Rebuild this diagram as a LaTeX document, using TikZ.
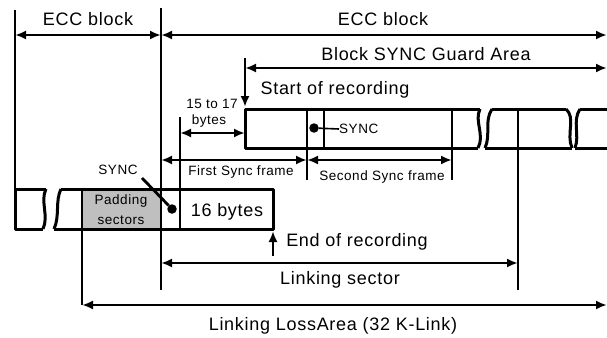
\documentclass[tikz,border=0pt]{standalone}
\usepackage{fontspec}
\setmainfont[LetterSpace=4]{Liberation Sans}
\usetikzlibrary{arrows.meta}
\tikzset{
  bar/.style={line width=3pt, line join=round},
  vline/.style={line width=2.2pt},
  dim/.style={line width=2.2pt, {Latex[length=11pt,width=9pt]}-{Latex[length=11pt,width=9pt]}},
  onetip/.style={line width=2.2pt, -{Latex[length=11pt,width=9pt]}},
  big/.style={font=\fontsize{18}{20}\selectfont, inner sep=0pt},
  small/.style={font=\fontsize{13.5}{15}\selectfont, inner sep=0pt},
  dot/.style={circle, fill=black, inner sep=0pt, minimum size=9.5pt},
}
\begin{document}
\begin{tikzpicture}[x=1pt,y=-1pt]
\useasboundingbox (0,0) rectangle (607,337);

% key coordinates
\coordinate (L0t) at (15,10);   \coordinate (L0b) at (15,229);
\coordinate (M0t) at (161,8);   \coordinate (M0b) at (161,290);
\coordinate (E0) at (15,35);    \coordinate (E1) at (161,35);   \coordinate (E2) at (607,35);
\coordinate (Gs) at (245,58);   \coordinate (Gtip) at (245,107);
\coordinate (G0) at (245,68);   \coordinate (G1) at (607,68);

% gray padding area
\fill[black!25] (82,189) rectangle (160,229);

% lower bar
\draw[bar] (46,189) -- (15,189) -- (15,229) -- (43,229);
\draw[bar] (46,189) .. controls (40,201) and (49,216) .. (43,229);
\draw[bar] (61,189) .. controls (55,201) and (60,216) .. (54,229);
\draw[bar] (61,189) -- (273,189) -- (273,229) -- (54,229);

% upper bar
\draw[bar] (480,109) -- (245,109) -- (245,148) -- (478,148);
\draw[bar] (480,109) .. controls (474,121) and (485,135) .. (478,148);
\draw[bar] (492,109) .. controls (484,121) and (491,135) .. (485,148);
\draw[bar] (492,109) -- (566,109);
\draw[bar] (485,148) -- (572,148);
\draw[bar] (566,109) .. controls (576,118) and (566,134) .. (572,148);
\draw[bar] (580,109) .. controls (572,121) and (580,135) .. (575,148);
\draw[bar] (580,109) -- (607,109);
\draw[bar] (575,148) -- (607,148);

% vertical lines
\draw[vline] (L0t) -- (L0b);
\draw[vline] (M0t) -- (M0b);
\coordinate (P0t) at (82,189); \coordinate (P0b) at (82,305);
\draw[vline] (P0t) -- (P0b);
\coordinate (B0t) at (180,117); \coordinate (B0b) at (180,229);
\draw[vline] (B0t) -- (B0b);
\coordinate (S1t) at (307,109); \coordinate (S1b) at (307,180);
\draw[vline] (S1t) -- (S1b);
\coordinate (S2t) at (324,109); \coordinate (S2b) at (324,148);
\draw[vline] (S2t) -- (S2b);
\coordinate (S3t) at (452,109); \coordinate (S3b) at (452,180);
\draw[vline] (S3t) -- (S3b);
\coordinate (R0t) at (518,109); \coordinate (R0b) at (518,290);
\draw[vline] (R0t) -- (R0b);

% start of recording
\draw[onetip] (Gs) -- (Gtip);

% dimension arrows
\draw[dim] (E0) -- (E1);
\draw[dim] (E1) -- (E2);
\draw[dim] (G0) -- (G1);
\coordinate (F0) at (180,133); \coordinate (F1) at (245,133);
\draw[dim] (F0) -- (F1);
\coordinate (Y0) at (161,160); \coordinate (Y1) at (307,160); \coordinate (Y2) at (452,160);
\draw[dim] (Y0) -- (Y1);
\draw[dim] (Y1) -- (Y2);
\coordinate (K0) at (161,263); \coordinate (K1) at (518,263);
\draw[dim] (K0) -- (K1);
\coordinate (LL0) at (82,305); \coordinate (LL1) at (607,305);
\draw[dim] (LL0) -- (LL1);

% end of recording
\coordinate (Er0) at (273,256); \coordinate (Er1) at (273,231);
\draw[onetip] (Er0) -- (Er1);

% sync dots
\node[dot] (d1) at (314,128) {};
\node[small, anchor=west] (sync1) at (339,129) {SYNC};
\draw[line width=1.6pt] (d1) -- (sync1.west);
\node[dot] (d2) at (172,209) {};
\node[small] (sync2) at (118,170) {SYNC};
\coordinate (sp) at (142,178);
\draw[line width=2.8pt] (sp) -- (d2);

% labels
\node[big] (t1) at (88,19) {ECC block};
\node[big] (t2) at (383,19) {ECC block};
\node[big] (t3) at (426,54) {Block SYNC Guard Area};
\node[big] (t4) at (335,90) {Start of recording};
\node[small] (t5) at (212,104) {15 to 17};
\node[small] (t6) at (209,121) {bytes};
\node[small] (t7) at (241,172) {First Sync frame};
\node[small] (t8) at (382,177) {Second Sync frame};
\node[small] (t9) at (121,201) {Padding};
\node[small] (t10) at (121,220) {sectors};
\node[big] (t11) at (227,212) {16 bytes};
\node[big] (t12) at (357,242) {End of recording};
\node[big] (t13) at (340,280) {Linking sector};
\node[big] (t14) at (333,326) {Linking LossArea (32 K-Link)};
\end{tikzpicture}
\end{document}
